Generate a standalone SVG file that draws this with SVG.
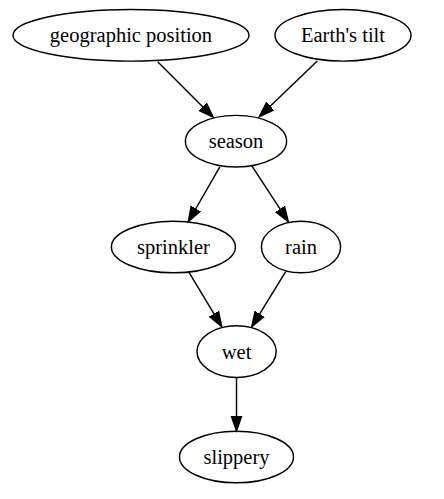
<svg xmlns="http://www.w3.org/2000/svg" width="444" height="499" viewBox="0 0 444 499">
<style>
.node ellipse{fill:none;stroke:#000;stroke-width:1.45}
.node text{font-family:"Liberation Serif","Times New Roman",serif;font-size:20.5px;text-anchor:middle;fill:#000}
.edges line{stroke:#000;stroke-width:1.45}
</style>
<defs>
<marker id="arr" markerUnits="userSpaceOnUse" markerWidth="18" markerHeight="14" refX="0.5" refY="6" orient="auto" viewBox="0 0 18 12">
<path d="M0.5,0.9 L15.1,6 L0.5,11.1 Z" fill="#000" stroke="#000" stroke-width="1.45"/>
</marker>
</defs>
<rect width="444" height="499" fill="#fff"/>
<g class="edges">
<line x1="157.7" y1="61.7" x2="202.9" y2="106.9" marker-end="url(#arr)"/>
<line x1="317.3" y1="61" x2="269.9" y2="106.5" marker-end="url(#arr)"/>
<line x1="220" y1="166.7" x2="195.6" y2="209" marker-end="url(#arr)"/>
<line x1="251.7" y1="165.7" x2="280.3" y2="209.4" marker-end="url(#arr)"/>
<line x1="189" y1="272.3" x2="214.2" y2="314.2" marker-end="url(#arr)"/>
<line x1="285.7" y1="271.7" x2="259.4" y2="314.3" marker-end="url(#arr)"/>
<line x1="236.5" y1="377.5" x2="236.5" y2="416.3" marker-end="url(#arr)"/>
</g>
<g id="geographic_position" class="node"><ellipse cx="131" cy="35.3" rx="118" ry="25.8"/><text x="131" y="42">geographic position</text></g>
<g id="earths_tilt" class="node"><ellipse cx="343" cy="35.3" rx="68" ry="25.8"/><text x="343" y="42">Earth's tilt</text></g>
<g id="season" class="node"><ellipse cx="236" cy="141.2" rx="50.6" ry="25.8"/><text x="236" y="148">season</text></g>
<g id="sprinkler" class="node"><ellipse cx="173.4" cy="247" rx="62" ry="25.8"/><text x="173.4" y="254">sprinkler</text></g>
<g id="rain" class="node"><ellipse cx="301" cy="247" rx="39.6" ry="25.8"/><text x="301" y="254">rain</text></g>
<g id="wet" class="node"><ellipse cx="236.6" cy="351.6" rx="39.6" ry="25.8"/><text x="236.6" y="358.5">wet</text></g>
<g id="slippery" class="node"><ellipse cx="236.5" cy="457" rx="57" ry="25.8"/><text x="236.5" y="464">slippery</text></g>
</svg>
